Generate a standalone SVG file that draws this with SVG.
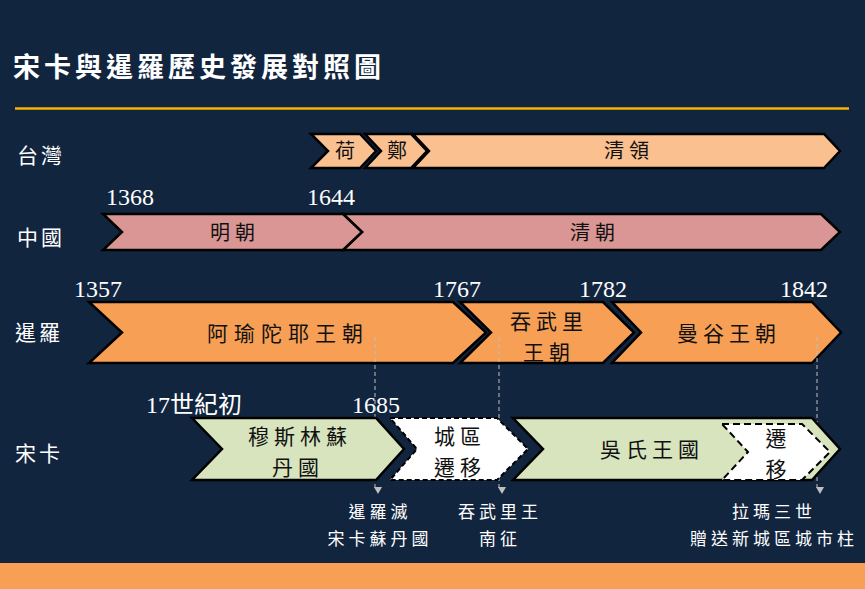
<svg xmlns="http://www.w3.org/2000/svg" width="865" height="589" viewBox="0 0 865 589">
<defs>
<style>
.bg{fill:#12253F}
.title{font-family:"Noto Sans CJK TC",sans-serif;font-size:27px;font-weight:bold;fill:#FFFFFF;letter-spacing:4px}
.row{font-family:"Noto Sans CJK TC",sans-serif;font-size:21px;fill:#FFFFFF;letter-spacing:3px}
.yr{font-family:"Liberation Serif","Noto Sans CJK TC",serif;font-size:24px;fill:#FFFFFF}
.box{stroke:#000000;stroke-width:2.5;stroke-linejoin:miter}
.tw{fill:#FAC090}
.cn{fill:#D99694}
.sm{fill:#F79F55}
.sk{fill:#D7E4BD}
.wd{fill:#FFFFFF;stroke:#000000;stroke-width:2;stroke-dasharray:5,3}
.lbl{font-family:"Noto Sans CJK TC",sans-serif;fill:#111111;text-anchor:middle}
.t20{font-size:20px;letter-spacing:5px}
.t22{font-size:21px;letter-spacing:5px}
.ann{font-family:"Noto Sans CJK TC",sans-serif;font-size:17px;fill:#FFFFFF;text-anchor:middle;letter-spacing:4px}
.conn{stroke:#BFBFBF;stroke-width:1;stroke-dasharray:4,3;fill:none}
</style>
<marker id="arr" markerWidth="8" markerHeight="8" refX="4" refY="7" orient="auto" markerUnits="userSpaceOnUse" viewBox="0 0 8 8">
<path d="M0,0 L8,0 L4,7 Z" fill="#BFBFBF" transform="rotate(-90 4 4)"/>
</marker>
</defs>
<rect class="bg" x="0" y="0" width="865" height="589"/>
<rect x="0" y="563" width="865" height="26" fill="#F79F55"/>

<g id="title">
<text class="title" x="13" y="77">宋卡與暹羅歷史發展對照圖</text>
<line x1="15" y1="108.5" x2="849" y2="108.5" stroke="#F5B300" stroke-width="2.5"/>
</g>

<g id="row-labels">
<text class="row" x="17" y="163">台灣</text>
<text class="row" x="17" y="245">中國</text>
<text class="row" x="15" y="340">暹羅</text>
<text class="row" x="15" y="461">宋卡</text>
</g>

<g id="years">
<text class="yr" x="106" y="205">1368</text>
<text class="yr" x="307" y="205">1644</text>
<text class="yr" x="74" y="297">1357</text>
<text class="yr" x="433" y="297">1767</text>
<text class="yr" x="579" y="297">1782</text>
<text class="yr" x="780" y="297">1842</text>
<text class="yr" x="146" y="413">17世紀初</text>
<text class="yr" x="352" y="413">1685</text>
</g>

<g id="tw-qing">
<path class="box tw" d="M413,134 L824,134 L840,151 L824,168 L413,168 L429,151 Z"/>
<text class="lbl t20" x="629" y="158">清領</text>
</g>
<g id="tw-zheng">
<path class="box tw" d="M365,134 L411,134 L427,151 L411,168 L365,168 L381,151 Z"/>
<text class="lbl t20" x="397" y="158" style="letter-spacing:0">鄭</text>
</g>
<g id="tw-dutch">
<path class="box tw" d="M311,134 L360,134 L376,151 L360,168 L311,168 L328,151 Z"/>
<text class="lbl t20" x="345" y="158" style="letter-spacing:0">荷</text>
</g>

<g id="cn-qing">
<path class="box cn" d="M343,214 L821,214 L840,232 L821,250 L343,250 L362,232 Z"/>
<text class="lbl t20" x="595" y="240">清朝</text>
</g>
<g id="cn-ming">
<path class="box cn" d="M103,214 L343,214 L362,232 L343,250 L103,250 L122,232 Z"/>
<text class="lbl t20" x="235" y="240">明朝</text>
</g>

<g id="sm-ayutthaya">
<path class="box sm" d="M89,302 L453,302 L486,332.5 L453,363 L89,363 L122,332.5 Z"/>
<text class="lbl t22" x="288" y="341" style="letter-spacing:6px">阿瑜陀耶王朝</text>
</g>
<g id="sm-thonburi">
<path class="box sm" d="M460,302 L603,302 L634,332.5 L603,363 L460,363 L491,332.5 Z"/>
<text class="lbl t22" x="549" y="329">吞武里</text>
<text class="lbl t22" x="549" y="360">王朝</text>
</g>
<g id="sm-bangkok">
<path class="box sm" d="M612,302 L812,302 L841,332.5 L812,363 L612,363 L641,332.5 Z"/>
<text class="lbl t22" x="729" y="341">曼谷王朝</text>
</g>

<g id="connectors">
<line class="conn" x1="375" y1="337" x2="375" y2="491" marker-end="url(#arr)"/>
<line class="conn" x1="499" y1="337" x2="499" y2="491" marker-end="url(#arr)"/>
<line class="conn" x1="817" y1="337" x2="817" y2="491" marker-end="url(#arr)"/>
</g>

<g id="sk-sultanate">
<path class="box sk" d="M192,418 L376,418 L404,449 L376,480 L192,480 L222,449 Z"/>
<text class="lbl t22" x="300" y="444">穆斯林蘇</text>
<text class="lbl t22" x="298" y="475">丹國</text>
</g>
<g id="sk-move1">
<path class="wd" d="M390,418 L497,418 L528,449 L497,480 L390,480 L417,449 Z"/>
<text class="lbl t22" x="460" y="444">城區</text>
<text class="lbl t22" x="460" y="475">遷移</text>
</g>
<g id="sk-wu">
<path class="box sk" d="M513,418 L812,418 L840,449 L812,480 L513,480 L543,449 Z"/>
<text class="lbl t22" x="652" y="457">吳氏王國</text>
</g>
<g id="sk-move2">
<path class="wd" d="M722,424 L802,424 L830,452 L802,480 L722,480 L748,452 Z" style="stroke-dasharray:7,4"/>
<text class="lbl t22" x="776" y="446" style="letter-spacing:0">遷</text>
<text class="lbl t22" x="776" y="477" style="letter-spacing:0">移</text>
</g>

<g id="annotations">
<text class="ann" x="380" y="518">暹羅滅</text>
<text class="ann" x="380" y="545">宋卡蘇丹國</text>
<text class="ann" x="500" y="518">吞武里王</text>
<text class="ann" x="500" y="545">南征</text>
<text class="ann" x="774" y="518">拉瑪三世</text>
<text class="ann" x="774" y="545">贈送新城區城市柱</text>
</g>
</svg>
